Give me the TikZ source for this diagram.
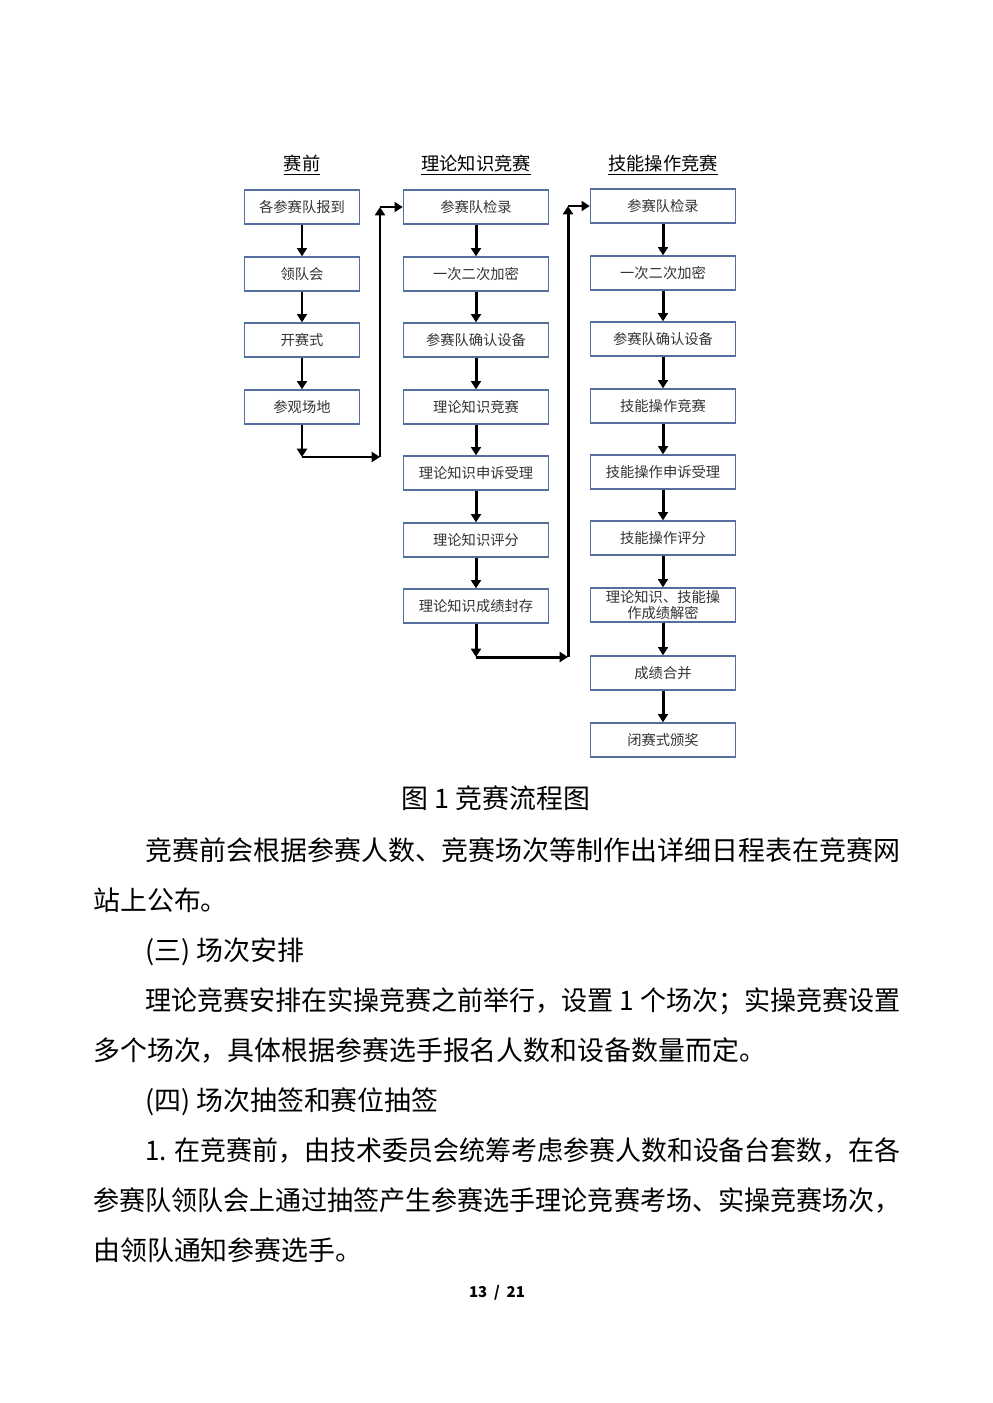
\documentclass[tikz,border=0pt]{standalone}
\usepackage{fontspec}
\usepackage{xcolor,graphicx}
\usetikzlibrary{arrows.meta}
\setmainfont{Noto Sans CJK SC}
\definecolor{boxblue}{RGB}{84,110,160}
\definecolor{boxtext}{RGB}{51,51,51}
\tikzset{
  box/.style={draw=boxblue, line width=0.8pt, minimum height=0.72cm, inner sep=1pt,
    font=\fontsize{8.6}{10}\selectfont, text=boxtext},
  boxa/.style={box, minimum width=2.43cm},
  boxb/.style={box, minimum width=3.07cm},
  flow/.style={-{Triangle[width=6pt,length=5pt]}, line width=1.8pt},
  head/.style={font=\fontsize{11}{13}\selectfont},
  body/.style={anchor=base west, inner sep=0pt, font=\fontsize{16.2}{20}\selectfont},
}

\begin{document}
\begin{tikzpicture}[x=0.02117cm, y=-0.02117cm]

    \useasboundingbox (0, 0) rectangle (992, 1403);

    % column heads
    \node[head] (h1) at (302, 165) {\underline{赛前}};
    \node[head] (h2) at (476, 165) {\underline{理论知识竞赛}};
    \node[head] (h3) at (663, 165) {\underline{技能操作竞赛}};

    % before the contest
    \node[boxa] (p1) at (302, 207) {各参赛队报到};
    \node[boxa] (p2) at (302, 274) {领队会};
    \node[boxa] (p3) at (302, 340) {开赛式};
    \node[boxa] (p4) at (302, 407) {参观场地};

    % theory contest
    \node[boxb] (t1) at (476, 207) {参赛队检录};
    \node[boxb] (t2) at (476, 274) {一次二次加密};
    \node[boxb] (t3) at (476, 340) {参赛队确认设备};
    \node[boxb] (t4) at (476, 407) {理论知识竞赛};
    \node[boxb] (t5) at (476, 473) {理论知识申诉受理};
    \node[boxb] (t6) at (476, 540) {理论知识评分};
    \node[boxb] (t7) at (476, 606) {理论知识成绩封存};

    % skills contest
    \node[boxb] (s1) at (663, 206) {参赛队检录};
    \node[boxb] (s2) at (663, 273) {一次二次加密};
    \node[boxb] (s3) at (663, 339) {参赛队确认设备};
    \node[boxb] (s4) at (663, 406) {技能操作竞赛};
    \node[boxb] (s5) at (663, 472) {技能操作申诉受理};
    \node[boxb] (s6) at (663, 538) {技能操作评分};
    \node[boxb, align=center] (s7) at (663, 605) {理论知识、技能操\\作成绩解密};
    \node[boxb] (s8) at (663, 673) {成绩合并};
    \node[boxb] (s9) at (663, 740) {闭赛式颁奖};

    \coordinate (c1) at (302, 457);
    \coordinate (c2) at (380, 457);
    \coordinate (c3) at (380, 207);
    \coordinate (q1) at (476, 657);
    \coordinate (q2) at (568, 657);
    \coordinate (q3) at (568, 206);

    \draw [flow] (p1) -- (p2);
    \draw [flow] (p2) -- (p3);
    \draw [flow] (p3) -- (p4);
    \draw [flow] (p4) -- (c1);
    \draw [flow] (c1) -- (c2);
    \draw [flow] (c2) -- (c3);
    \draw [flow] (c3) -- (t1);

    \draw [flow] (t1) -- (t2);
    \draw [flow] (t2) -- (t3);
    \draw [flow] (t3) -- (t4);
    \draw [flow] (t4) -- (t5);
    \draw [flow] (t5) -- (t6);
    \draw [flow] (t6) -- (t7);
    \draw [flow] (t7) -- (q1);
    \draw [flow] (q1) -- (q2);
    \draw [flow] (q2) -- (q3);
    \draw [flow] (q3) -- (s1);

    \draw [flow] (s1) -- (s2);
    \draw [flow] (s2) -- (s3);
    \draw [flow] (s3) -- (s4);
    \draw [flow] (s4) -- (s5);
    \draw [flow] (s5) -- (s6);
    \draw [flow] (s6) -- (s7);
    \draw [flow] (s7) -- (s8);
    \draw [flow] (s8) -- (s9);

    % caption and page text
    \node[body, anchor=base] (cap) at (496, 808) {图 1\ 竞赛流程图};
    \node[body] (l1) at (145, 860) {\resizebox{15.98cm}{\height}{竞赛前会根据参赛人数、竞赛场次等制作出详细日程表在竞赛网}};
    \node[body] (l2) at (93, 910) {站上公布。};
    \node[body] (l3) at (145, 960) {(三)\ 场次安排};
    \node[body] (l4) at (145, 1010) {\resizebox{15.98cm}{\height}{理论竞赛安排在实操竞赛之前举行，设置 1 个场次；实操竞赛设置}};
    \node[body] (l5) at (93, 1060) {多个场次，具体根据参赛选手报名人数和设备数量而定。};
    \node[body] (l6) at (145, 1110) {(四)\ 场次抽签和赛位抽签};
    \node[body] (l7) at (145, 1160) {\resizebox{15.98cm}{\height}{1. 在竞赛前，由技术委员会统筹考虑参赛人数和设备台套数，在各}};
    \node[body] (l8) at (93, 1210) {\resizebox{17.08cm}{\height}{参赛队领队会上通过抽签产生参赛选手理论竞赛考场、实操竞赛场次，}};
    \node[body] (l9) at (93, 1260) {由领队通知参赛选手。};
    \node[font=\fontsize{9}{11}\selectfont\bfseries] (pg) at (497, 1293) {13 \ /\ \ 21};

  \end{tikzpicture}
\end{document}
